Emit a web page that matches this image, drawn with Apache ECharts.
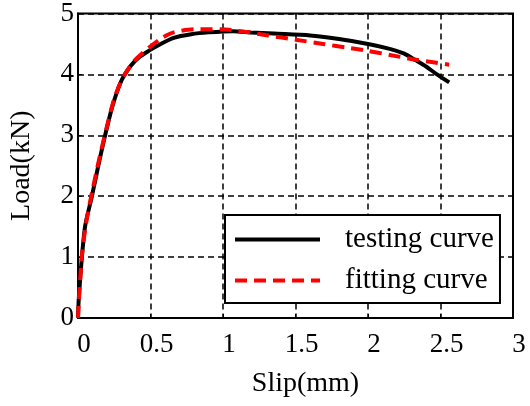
<!DOCTYPE html>
<html>
<head>
<meta charset="utf-8">
<script src="https://cdn.jsdelivr.net/npm/echarts@6/dist/echarts.min.js"></script>
<style>
  html, body { margin: 0; padding: 0; background: #fff; }
  #chart { width: 530px; height: 406px; }
</style>
</head>
<body>
<div id="chart"></div>
<script>
// testing curve (black)
var testSlip = [0, 0.005, 0.027, 0.05, 0.096, 0.14, 0.19, 0.24, 0.30, 0.36, 0.42, 0.49, 0.57, 0.66, 0.78, 0.9, 1.07, 1.19, 1.35, 1.6, 1.8, 2.0, 2.15, 2.25, 2.33, 2.4, 2.47, 2.56];
var testLoad = [0, 0.3, 1.0, 1.52, 2.0, 2.5, 3.03, 3.5, 3.9, 4.13, 4.28, 4.39, 4.5, 4.6, 4.66, 4.69, 4.71, 4.69, 4.67, 4.64, 4.58, 4.5, 4.42, 4.34, 4.23, 4.13, 4.01, 3.87];
// fitting curve (red dashed)
var fitSlip = [0, 0.01, 0.03, 0.06, 0.1, 0.15, 0.2, 0.25, 0.3, 0.38, 0.49, 0.58, 0.66, 0.8, 0.99, 1.15, 1.31, 1.5, 1.69, 1.85, 1.99, 2.15, 2.33, 2.45, 2.56];
var fitLoad = [0, 0.45, 1.1, 1.62, 2.1, 2.65, 3.15, 3.6, 3.9, 4.2, 4.44, 4.6, 4.69, 4.74, 4.74, 4.7, 4.64, 4.57, 4.5, 4.44, 4.39, 4.32, 4.24, 4.2, 4.16];

var xTicks = [0, 0.5, 1, 1.5, 2, 2.5, 3];
var yTicks = [0, 1, 2, 3, 4, 5];

function pairs(xs, ys) {
  return xs.map(function (x, i) { return [x, ys[i]]; });
}

var font = 'Liberation Serif';
var myChart = echarts.init(document.getElementById('chart'));
var option = {
  animation: false,
  grid: {
    left: 76, right: 17, top: 13, bottom: 88,
    show: true, borderColor: '#000', borderWidth: 2
  },
  legend: {
    left: 225, top: 215,
    orient: 'vertical',
    borderColor: '#000', borderWidth: 2,
    backgroundColor: '#fff',
    padding: [10, 6, 8, 8],
    itemWidth: 85, itemHeight: 14, itemGap: 12,
    itemStyle: { opacity: 0 },
    lineStyle: { width: 4 },
    textStyle: { fontFamily: font, fontSize: 29, color: '#000', padding: [0, 0, 0, 20] },
    data: ['testing curve', 'fitting curve']
  },
  xAxis: {
    type: 'value', min: 0, max: 3, interval: 0.5,
    name: 'Slip(mm)', nameLocation: 'middle', nameGap: 52,
    nameTextStyle: { fontFamily: font, fontSize: 28, color: '#000', padding: [0, 0, 0, 20] },
    axisLine: { show: true, lineStyle: { color: '#000', width: 2 } },
    axisTick: { show: true, inside: true, length: 4, lineStyle: { color: '#000' } },
    axisLabel: {
      fontFamily: font, fontSize: 27, color: '#000', margin: 13, padding: [0, 0, 0, 12],
      formatter: function (v) { return xTicks.indexOf(v) >= 0 ? String(v) : ''; }
    },
    splitLine: { show: true, lineStyle: { color: '#000', type: [6, 4], width: 1.5 } }
  },
  yAxis: {
    type: 'value', min: 0, max: 5, interval: 1,
    name: 'Load(kN)', nameLocation: 'middle', nameGap: 42,
    nameTextStyle: { fontFamily: font, fontSize: 28, color: '#000' },
    axisLine: { show: true, lineStyle: { color: '#000', width: 2 } },
    axisTick: { show: true, inside: true, length: 4, lineStyle: { color: '#000' } },
    axisLabel: {
      fontFamily: font, fontSize: 27, color: '#000', margin: 4, padding: [4, 0, 0, 0],
      formatter: function (v) { return yTicks.indexOf(v) >= 0 ? String(v) : ''; }
    },
    splitLine: { show: true, lineStyle: { color: '#000', type: [6, 4], width: 1.5 } }
  },
  series: [
    {
      name: 'testing curve', type: 'line', symbol: 'none',
      smooth: 0.25,
      data: pairs(testSlip, testLoad),
      lineStyle: { color: '#000', width: 4 },
      itemStyle: { color: '#000' },
      z: 3
    },
    {
      name: 'fitting curve', type: 'line', symbol: 'none',
      smooth: 0.25,
      data: pairs(fitSlip, fitLoad),
      lineStyle: { color: '#ff0000', width: 4, type: [12, 7] },
      itemStyle: { color: '#ff0000' },
      z: 4
    }
  ]
};
myChart.setOption(option);
</script>
</body>
</html>
